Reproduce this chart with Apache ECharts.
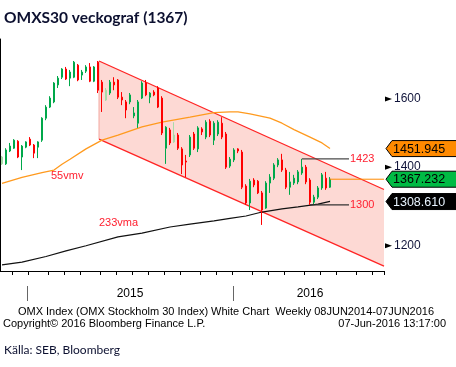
<!DOCTYPE html>
<html><head><meta charset="utf-8">
<script src="https://cdn.jsdelivr.net/npm/echarts@6/dist/echarts.min.js"></script>
<style>html,body{margin:0;padding:0;background:#fff}#c{width:456px;height:367px}</style>
</head><body><div id="c"></div>
<script>
// ---------- data ----------
const slots = 96; // weekly category slots on the x axis (incl. empty future space)
const categories = Array.from({length: slots}, (_, i) =>
  new Date(Date.UTC(2014, 10, 21) + i * 7 * 864e5).toISOString().slice(0, 10));

// weekly candles: [open, close, low, high]
const candles = [
 [1409,1428,1406,1431],[1409,1448,1406,1453],[1445,1459,1442,1468],[1453,1476,1451,1479],
 [1473,1428,1425,1476],[1428,1459,1392,1462],[1456,1471,1453,1473],[1479,1462,1459,1485],
 [1462,1439,1425,1465],[1456,1471,1425,1473],[1476,1541,1471,1544],[1541,1575,1535,1581],
 [1575,1603,1572,1609],[1591,1651,1587,1654],[1645,1667,1635,1674],[1670,1697,1664,1700],
 [1697,1664,1661,1704],[1667,1687,1641,1694],[1670,1720,1667,1724],[1710,1661,1657,1714],
 [1677,1687,1661,1694],[1690,1704,1684,1710],[1704,1657,1654,1717],[1657,1704,1654,1707],
 [1720,1628,1619,1724],[1654,1622,1560,1661],[1597,1628,1594,1635],[1619,1654,1613,1661],
 [1654,1645,1628,1670],[1661,1606,1600,1664],[1606,1597,1581,1622],[1591,1566,1541,1597],
 [1591,1613,1584,1619],[1548,1557,1541,1575],[1526,1591,1512,1597],[1603,1651,1600,1657],
 [1651,1613,1609,1661],[1606,1619,1587,1622],[1622,1613,1609,1628],[1635,1575,1572,1641],
 [1603,1497,1491,1609],[1453,1514,1409,1517],[1506,1468,1462,1512],[1471,1491,1468,1529],
 [1491,1453,1448,1497],[1451,1406,1381,1456],[1417,1414,1373,1434],[1434,1485,1428,1491],
 [1494,1453,1448,1500],[1451,1512,1442,1517],[1509,1500,1491,1514],[1485,1529,1479,1535],
 [1532,1491,1485,1538],[1476,1526,1462,1532],[1494,1529,1488,1535],[1526,1485,1479,1544],
 [1494,1400,1395,1500],[1403,1422,1398,1428],[1420,1448,1414,1453],[1451,1445,1439,1453],
 [1442,1346,1341,1448],[1349,1305,1300,1354],[1305,1362,1287,1368],[1365,1352,1346,1370],
 [1362,1331,1328,1365],[1331,1287,1250,1336],[1292,1357,1290,1362],[1357,1373,1331,1381],
 [1370,1406,1365,1411],[1406,1420,1400,1425],[1420,1392,1387,1437],[1392,1346,1341,1398],
 [1346,1360,1326,1387],[1357,1370,1352,1379],[1360,1387,1354,1392],[1384,1400,1379,1423],
 [1400,1360,1354,1406],[1365,1307,1300,1370],[1307,1320,1302,1326],[1320,1344,1315,1349],
 [1344,1379,1339,1384],[1370,1344,1339,1387],[1346,1367.232,1344,1373]
];
const paleIdx = [0, 26, 43];

// moving averages, read at sample weeks
const ma55Idx = [0,5,10,13,15,17,21,25,29,35,40,47,53,57,59,62,67,70,73,77,80,82];
const ma55Val = [1356,1372,1385,1392,1408,1422,1451,1476,1491,1515,1529,1544,1558,1560,1560,1554,1541,1526,1507,1485,1468,1452];
const ma233Idx = [0,5,11,16,21,29,35,42,47,53,57,61,65,70,74,79,82];
const ma233Val = [1156,1162,1175,1188,1200,1221,1230,1245,1252,1260,1266,1272,1282,1290,1295,1302,1309];

// trend channel (x in week units on the slot scale)
const channelX = [24.75, 96];
const channelUpper = [1724, 1340];
const channelLower = [1479, 1153];

// horizontal reference levels: [candle index, level]
const refLevels = [[75, 1423], [77, 1300]];

// right axis
const yTicks = [1200, 1400, 1600];
const tagVals = [1451.945, 1367.232, 1308.610];
const tagFill = ['#ff8a00', '#00bb44', '#000000'];
const tagText = ['#000000', '#000000', '#e8f4ff'];

// x axis
const tickIdx = [3,7,12,16,20,25,29,33,37,41,45,50,54,58,63,67,71,76,80,84,89,93];
const yearIdx = [32, 77];
const yearLabels = ['2015', '2016'];
const yearSepX = [27.5, 233.5];

// ---------- chart ----------
const chart = echarts.init(document.getElementById('c'), null, {renderer: 'canvas'});
const GREEN = '#00a84a', RED = '#ff0000';
const RTXT = '#ff2030';
const FONT = '"Liberation Sans", Arial, sans-serif';
const refEnd = 87.25;
const lastX = candles.length - 0.5;

const candleData = candles.map((c, i) => paleIdx.includes(i)
  ? {value: c, itemStyle: {color: '#a8dca8', borderColor: '#a8dca8'}} : c);

const series = [
  {
    type: 'custom', xAxisIndex: 1, yAxisIndex: 0, z: 1, silent: true, data: [0],
    renderItem: (params, api) => {
      const ul = api.coord([channelX[0], channelUpper[0]]);
      const ur = api.coord([channelX[1], channelUpper[1]]);
      const lr = api.coord([channelX[1], channelLower[1]]);
      const ll = api.coord([channelX[0], channelLower[0]]);
      return {type: 'group', children: [
        {type: 'polygon', shape: {points: [ul, ur, lr, ll]}, style: {fill: '#fdd9d4'}},
        {type: 'line', shape: {x1: ul[0], y1: ul[1], x2: ll[0], y2: ll[1]}, style: {stroke: '#f2a8a0', lineWidth: 1}},
        {type: 'polyline', shape: {points: [ul, ur]}, style: {stroke: '#ff2424', lineWidth: 1.3, fill: null}},
        {type: 'polyline', shape: {points: [ll, lr]}, style: {stroke: '#ff2424', lineWidth: 1.3, fill: null}}
      ]};
    }
  },
  {
    type: 'line', xAxisIndex: 0, z: 2, silent: true, symbol: 'none', smooth: false,
    data: ma55Idx.map((d, k) => [d, ma55Val[k]]),
    lineStyle: {color: '#ff9a1e', width: 1.3}
  },
  {
    type: 'line', xAxisIndex: 0, z: 2, silent: true, symbol: 'none', smooth: false,
    data: ma233Idx.map((d, k) => [d, ma233Val[k]]),
    lineStyle: {color: '#111111', width: 1.2}
  },
  {
    type: 'candlestick', xAxisIndex: 0, z: 3, silent: true, barWidth: 2,
    data: candleData,
    itemStyle: {color: GREEN, color0: RED, borderColor: GREEN, borderColor0: RED, borderWidth: 1}
  },
  ...refLevels.map(([idx, lvl], k) => ({
    type: 'line', xAxisIndex: 1, z: 4, silent: true, symbol: 'none',
    data: [[idx + 0.5, lvl], [refEnd, lvl]],
    endLabel: {show: true, distance: 1, formatter: String(lvl), color: RTXT, fontSize: 11, fontFamily: FONT},
    lineStyle: {color: k === 0 ? '#4a4a4a' : '#333333', width: 1.2}
  })),
  {
    type: 'line', xAxisIndex: 1, z: 4, silent: true, symbol: 'none',
    data: [[lastX, candles[candles.length - 1][1]], [slots, candles[candles.length - 1][1]]],
    lineStyle: {color: '#ff8a00', width: 1}
  },
  {
    type: 'custom', xAxisIndex: 1, yAxisIndex: 0, z: 5, silent: true, clip: false,
    data: yTicks.map(v => [slots, v]),
    renderItem: (params, api) => {
      const p = api.coord([api.value(0), api.value(1)]);
      return {type: 'group', children: [
        {type: 'polygon', shape: {points: [[p[0] + 1, p[1] - 2.5], [p[0] + 8, p[1]], [p[0] + 1, p[1] + 2.5]]}, style: {fill: '#000'}},
        {type: 'text', style: {text: String(yTicks[params.dataIndex]), x: p[0] + 10, y: p[1], align: 'left', verticalAlign: 'middle',
          fill: '#10143a', font: '12px ' + FONT}}
      ]};
    }
  },
  {
    type: 'custom', xAxisIndex: 1, yAxisIndex: 0, z: 6, silent: true, clip: false,
    data: tagVals.map(v => [slots, v]),
    renderItem: (params, api) => {
      const i = params.dataIndex;
      const p = api.coord([api.value(0), api.value(1)]);
      const x = p[0], y = p[1], h = 8;
      return {type: 'group', children: [
        {type: 'polygon', shape: {points: [[x + 2, y], [x + 8, y - h], [x + 80, y - h], [x + 80, y + h], [x + 8, y + h]]},
          style: {fill: tagFill[i], stroke: '#000', lineWidth: 1}},
        {type: 'text', style: {text: tagVals[i].toFixed(3), x: x + 9, y: y + 0.5, align: 'left', verticalAlign: 'middle',
          fill: tagText[i], font: '12.5px ' + FONT}}
      ]};
    }
  }
];

const option = {
  animation: false,
  grid: {left: 0, right: 72, top: 39, bottom: 96, containLabel: false},
  xAxis: [
    {
      type: 'category', data: categories, boundaryGap: true,
      axisLine: {show: true, lineStyle: {color: '#000', width: 1}},
      axisTick: {show: true, length: 4, interval: (i) => tickIdx.includes(i), lineStyle: {color: '#000'}},
      axisLabel: {show: true, interval: (i) => yearIdx.includes(i),
        formatter: (v, i) => { const k = yearIdx.indexOf(i); return k >= 0 ? yearLabels[k] : ''; },
        margin: 17, fontSize: 12, color: '#000', fontFamily: FONT},
      splitLine: {show: false}
    },
    {type: 'value', min: 0, max: slots, show: false}
  ],
  yAxis: {
    type: 'log', min: 1142, max: 1800, position: 'right',
    axisLine: {show: true, lineStyle: {color: '#000', width: 1}},
    axisTick: {show: false}, axisLabel: {show: false}, splitLine: {show: false}
  },
  graphic: [
    {type: 'text', x: 4, y: 18, style: {text: 'OMXS30 veckograf (1367)', font: 'bold 15.5px Lato, sans-serif', fill: '#0c1030', verticalAlign: 'middle'}},
    {type: 'text', x: 51, y: 176, style: {text: '55vmv', font: '11px ' + FONT, fill: RTXT, verticalAlign: 'middle'}},
    {type: 'text', x: 99, y: 223, style: {text: '233vma', font: '11px ' + FONT, fill: RTXT, verticalAlign: 'middle'}},
    ...yearSepX.map(x => ({type: 'line', shape: {x1: x, y1: 286, x2: x, y2: 301}, style: {stroke: '#666', lineWidth: 1}})),
    {type: 'text', x: 226, y: 312, style: {text: 'OMX Index (OMX Stockholm 30 Index) White Chart  Weekly 08JUN2014-07JUN2016', font: '11px ' + FONT, fill: '#000', align: 'center', verticalAlign: 'middle'}},
    {type: 'text', x: 3, y: 323.5, style: {text: 'Copyright\u00a9 2016 Bloomberg Finance L.P.', font: '11px ' + FONT, fill: '#000', verticalAlign: 'middle'}},
    {type: 'text', x: 446, y: 323.5, style: {text: '07-Jun-2016 13:17:00', font: '11px ' + FONT, fill: '#000', align: 'right', verticalAlign: 'middle'}},
    {type: 'text', x: 4, y: 350, style: {text: 'Källa: SEB, Bloomberg', font: '12px Lato, sans-serif', fill: '#0c1030', verticalAlign: 'middle'}}
  ],
  series
};
chart.setOption(option);
</script>
</body></html>
